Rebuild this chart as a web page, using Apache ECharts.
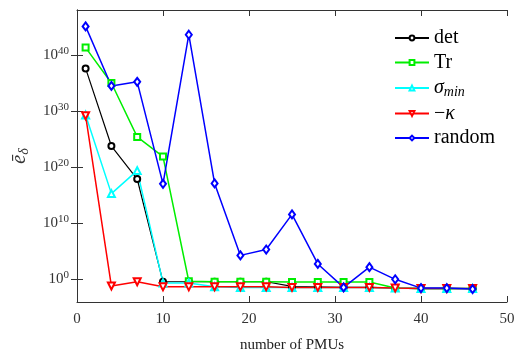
<!DOCTYPE html>
<html>
<head>
<meta charset="utf-8">
<script src="https://cdn.jsdelivr.net/npm/echarts@6/dist/echarts.min.js"></script>
<style>
  html, body { margin: 0; padding: 0; background: #fff; }
  #chart { width: 526px; height: 358px; }
</style>
</head>
<body>
<div id="chart"></div>
<script>
// number of PMUs
const pmus = [1, 4, 7, 10, 13, 16, 19, 22, 25, 28, 31, 34, 37, 40, 43, 46];

// mean error values
const detValues = [4e37, 6e23, 8e17, 4e-1, 4e-1, 4e-1, 4e-1, 4e-1, 6e-2, 5e-2, 4e-2, 4e-2, 3e-2, 2.5e-2, 2.5e-2, 2.5e-2];
const trValues = [2e41, 1e35, 2.5e25, 8e21, 5e-1, 4e-1, 4e-1, 4e-1, 3.5e-1, 3.5e-1, 3.5e-1, 3.5e-1, 3e-2, 2.5e-2, 2.5e-2, 2.5e-2];
const sigmaValues = [2e29, 2e15, 2.5e19, 2.5e-1, 2.5e-1, 5e-2, 4e-2, 4e-2, 4e-2, 4e-2, 4e-2, 4e-2, 3e-2, 2.5e-2, 2.5e-2, 2.5e-2];
const kappaValues = [1.5e29, 7e-2, 4e-1, 5e-2, 5e-2, 5e-2, 5e-2, 5e-2, 4e-2, 4e-2, 4e-2, 4e-2, 3e-2, 2.5e-2, 2.5e-2, 2.5e-2];
const randomValues = [1.2e45, 3e34, 1.6e35, 1.1e17, 4e43, 1.3e17, 2e4, 2.2e5, 4e11, 6e2, 4e-2, 1.6e2, 1.1, 3e-2, 3e-2, 2e-2];

// y ticks at decades
const yTicks = [1, 1e10, 1e20, 1e30, 1e40];

const seriesDefs = [
  { name: 'det', data: detValues, color: '#000000', symbol: 'emptyCircle', size: 6, width: 1.2 },
  { name: 'Tr', data: trValues, color: '#00ee00', symbol: 'emptyRect', size: 6, width: 1.5 },
  { name: 'sigma', data: sigmaValues, color: '#00ffff', symbol: 'emptyTriangle', size: 7, width: 1.5 },
  { name: 'kappa', data: kappaValues, color: '#ff0000', symbol: 'emptyTriangle', size: 7, width: 1.5, rotate: 180 },
  { name: 'random', data: randomValues, color: '#0000ff', symbol: 'emptyDiamond', size: [6, 8], width: 1.5 }
];

const serif = 'Liberation Serif';

const chart = echarts.init(document.getElementById('chart'), null, { renderer: 'canvas' });

function expLabel(v) {
  const n = Math.round(Math.log10(v));
  return '{b|10}{s|' + n + '}';
}

const option = {
  animation: false,
  backgroundColor: '#fff',
  grid: { left: 77, right: 19, top: 10, bottom: 55 },
  legend: {
    orient: 'vertical',
    left: 389,
    top: 23,
    itemWidth: 34,
    itemHeight: 6,
    itemGap: 4.5,
    data: seriesDefs.map(s => s.name),
    formatter: function (name) {
      if (name === 'sigma') return '{g|σ}{m|min}';
      if (name === 'kappa') return '{t|−}{g|κ}';
      return '{t|' + name + '}';
    },
    textStyle: {
      fontFamily: serif,
      fontSize: 20,
      color: '#000',
      rich: {
        t: { fontFamily: serif, fontSize: 20, color: '#000', lineHeight: 20 },
        g: { fontFamily: serif, fontSize: 20, fontStyle: 'italic', color: '#000', lineHeight: 20 },
        m: { fontFamily: serif, fontSize: 14, fontStyle: 'italic', color: '#000', padding: [8, 0, 0, 0], lineHeight: 20 }
      }
    }
  },
  xAxis: [
    {
      type: 'value',
      min: 0,
      max: 50,
      interval: 10,
      name: 'number of PMUs',
      nameLocation: 'middle',
      nameGap: 36,
      nameTextStyle: { fontFamily: serif, fontSize: 15, color: '#222' },
      axisLine: { lineStyle: { color: '#333', width: 1 } },
      axisTick: { inside: true, length: 6, lineStyle: { color: '#333' } },
      axisLabel: { fontFamily: serif, fontSize: 15, color: '#333', margin: 10 },
      splitLine: { show: false }
    },
    {
      type: 'value',
      position: 'top',
      min: 0,
      max: 50,
      interval: 10,
      axisLine: { show: true, lineStyle: { color: '#333', width: 1 } },
      axisTick: { show: true, inside: true, length: 6, lineStyle: { color: '#333' } },
      axisLabel: { show: false },
      splitLine: { show: false }
    }
  ],
  yAxis: [
    {
      type: 'log',
      logBase: 10,
      min: 1e-4,
      max: 1e48,
      name: '{e|ē}{d|δ}',
      nameLocation: 'middle',
      nameGap: 46,
      nameRotate: 90,
      nameTextStyle: {
        rich: {
          e: { fontFamily: serif, fontSize: 20, fontStyle: 'italic', color: '#333' },
          d: { fontFamily: serif, fontSize: 14, fontStyle: 'italic', color: '#333', padding: [8, 0, 0, 0] }
        }
      },
      axisLine: { show: true, lineStyle: { color: '#333', width: 1 } },
      axisTick: { inside: true, length: 6, customValues: yTicks, lineStyle: { color: '#333' } },
      axisLabel: {
        customValues: yTicks,
        formatter: expLabel,
        margin: 8,
        rich: {
          b: { fontFamily: serif, fontSize: 15, color: '#333' },
          s: { fontFamily: serif, fontSize: 11, color: '#333', padding: [0, 0, 8, 0] }
        }
      },
      splitLine: { show: false },
      minorTick: { show: false }
    },
    {
      type: 'log',
      logBase: 10,
      position: 'right',
      min: 1e-4,
      max: 1e48,
      axisLine: { show: true, lineStyle: { color: '#333', width: 1 } },
      axisTick: { show: true, inside: true, length: 6, customValues: yTicks, lineStyle: { color: '#333' } },
      axisLabel: { show: false },
      splitLine: { show: false }
    }
  ],
  series: seriesDefs.map(s => ({
    name: s.name,
    type: 'line',
    data: pmus.map((x, i) => [x, s.data[i]]),
    symbol: s.symbol,
    symbolSize: s.size,
    symbolRotate: s.rotate || 0,
    showAllSymbol: true,
    color: s.color,
    lineStyle: { color: s.color, width: s.width },
    itemStyle: { color: s.color, borderColor: s.color, borderWidth: 1.5 },
    emphasis: { disabled: true }
  }))
};

chart.setOption(option);
</script>
</body>
</html>
